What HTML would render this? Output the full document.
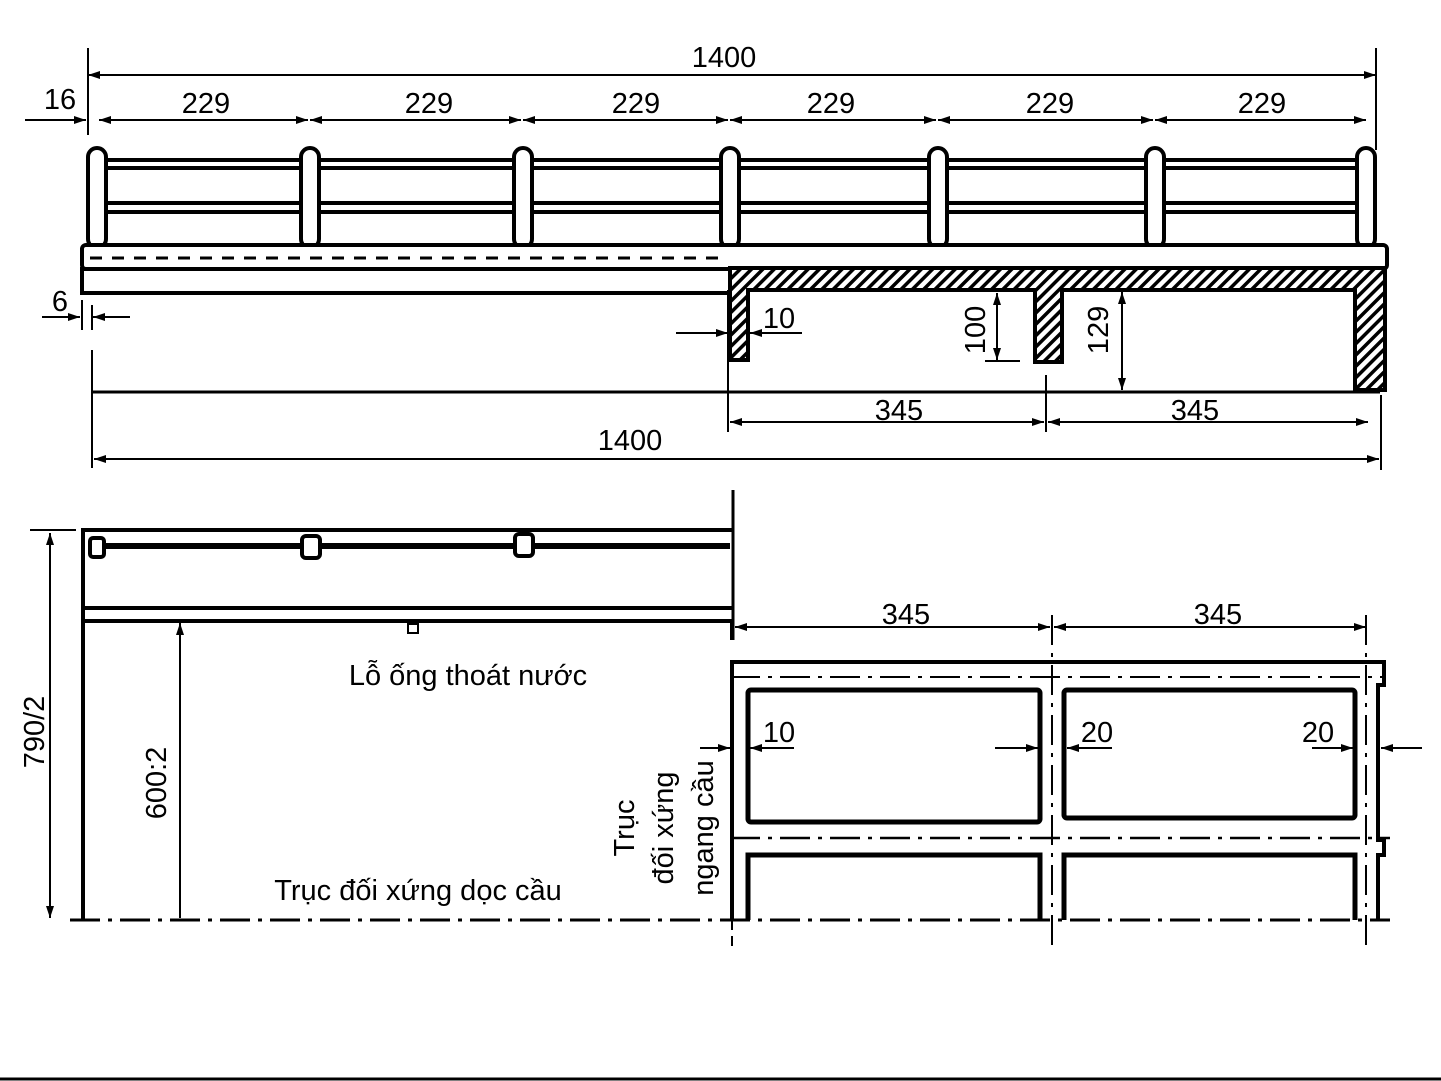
<!DOCTYPE html>
<html><head><meta charset="utf-8"><style>
html,body{margin:0;padding:0;background:#fff;}
svg{display:block;}
text{font-family:"Liberation Sans",sans-serif;font-size:29px;fill:#000;}
</style></head><body>
<svg width="1441" height="1081" viewBox="0 0 1441 1081" xmlns="http://www.w3.org/2000/svg">
<defs>
<marker id="a" viewBox="0 0 12 8" refX="12" refY="4" markerWidth="12" markerHeight="8" markerUnits="userSpaceOnUse" orient="auto-start-reverse"><path d="M0,0 L12,4 L0,8 z" fill="#000"/></marker>
<pattern id="h" width="8" height="8" patternUnits="userSpaceOnUse" patternTransform="rotate(45)"><rect width="8" height="8" fill="#fff"/><rect width="3.5" height="8" fill="#000"/></pattern>
</defs>
<rect width="1441" height="1081" fill="#fff"/>
<g stroke="#000" fill="none" stroke-width="2">
<line x1="88" y1="75" x2="1376" y2="75" marker-start="url(#a)" marker-end="url(#a)"/>
<line x1="88" y1="48" x2="88" y2="135"/><line x1="1376" y1="48" x2="1376" y2="150"/>
<line x1="99" y1="120" x2="308" y2="120" marker-start="url(#a)" marker-end="url(#a)"/>
<line x1="310" y1="120" x2="521" y2="120" marker-start="url(#a)" marker-end="url(#a)"/>
<line x1="523" y1="120" x2="728" y2="120" marker-start="url(#a)" marker-end="url(#a)"/>
<line x1="730" y1="120" x2="936" y2="120" marker-start="url(#a)" marker-end="url(#a)"/>
<line x1="938" y1="120" x2="1153" y2="120" marker-start="url(#a)" marker-end="url(#a)"/>
<line x1="1155" y1="120" x2="1366" y2="120" marker-start="url(#a)" marker-end="url(#a)"/>
<line x1="25" y1="120" x2="86" y2="120" marker-end="url(#a)"/>
<line x1="42" y1="317" x2="80" y2="317" marker-end="url(#a)"/>
<line x1="130" y1="317" x2="93" y2="317" marker-end="url(#a)"/>
<line x1="82" y1="300" x2="82" y2="330"/><line x1="92" y1="305" x2="92" y2="330"/>
<path d="M100,160 H1370 M100,168 H1370 M100,203 H1370 M100,212 H1370" stroke-width="4"/>
</g>
<g stroke="#000" stroke-width="4" fill="#fff">
<rect x="88" y="148" width="18" height="100" rx="9"/>
<rect x="301" y="148" width="18" height="100" rx="9"/>
<rect x="514" y="148" width="18" height="100" rx="9"/>
<rect x="721" y="148" width="18" height="100" rx="9"/>
<rect x="929" y="148" width="18" height="100" rx="9"/>
<rect x="1146" y="148" width="18" height="100" rx="9"/>
<rect x="1357" y="148" width="18" height="100" rx="9"/>
<rect x="82" y="245" width="1305" height="24" rx="4"/>
<rect x="82" y="269" width="648" height="24"/>
<path d="M730,268 H1385 V390 H1355 V290 H1062 V362 H1035 V290 H748 V360 H730 Z" fill="url(#h)"/>
</g>
<g stroke="#000" fill="none" stroke-width="2">
<line x1="90" y1="258" x2="725" y2="258" stroke-width="3" stroke-dasharray="12,10"/>
<line x1="92" y1="392" x2="1380" y2="392" stroke-width="3"/>
<line x1="92" y1="350" x2="92" y2="468"/><line x1="1381" y1="395" x2="1381" y2="470"/>
<line x1="728" y1="290" x2="728" y2="432"/><line x1="1046" y1="375" x2="1046" y2="432"/>
<line x1="730" y1="422" x2="1044" y2="422" marker-start="url(#a)" marker-end="url(#a)"/>
<line x1="1048" y1="422" x2="1368" y2="422" marker-start="url(#a)" marker-end="url(#a)"/>
<line x1="94" y1="459" x2="1379" y2="459" marker-start="url(#a)" marker-end="url(#a)"/>
<line x1="676" y1="333" x2="728" y2="333" marker-end="url(#a)"/>
<line x1="802" y1="333" x2="750" y2="333" marker-end="url(#a)"/>
<line x1="997" y1="293" x2="997" y2="360" marker-start="url(#a)" marker-end="url(#a)"/>
<line x1="985" y1="361" x2="1020" y2="361"/>
<line x1="1122" y1="292" x2="1122" y2="390" marker-start="url(#a)" marker-end="url(#a)"/>
<path d="M83,920 V530 H732 M83,608 H732 M83,621 H732 V640" stroke-width="4"/>
<line x1="733" y1="490" x2="733" y2="640" stroke-width="3"/>
<line x1="95" y1="546" x2="730" y2="546" stroke-width="6"/>
<rect x="408" y="624" width="10" height="9" stroke-width="2"/>
<line x1="30" y1="530" x2="76" y2="530"/>
<line x1="50" y1="533" x2="50" y2="918" marker-start="url(#a)" marker-end="url(#a)"/>
<line x1="180" y1="623" x2="180" y2="918" marker-start="url(#a)"/>
<line x1="70" y1="920" x2="1390" y2="920" stroke-width="3" stroke-dasharray="30,8,4,8"/>
</g>
<g stroke="#000" stroke-width="4" fill="#fff">
<rect x="90" y="538" width="14" height="19" rx="3"/>
<rect x="302" y="536" width="18" height="22" rx="4"/>
<rect x="515" y="534" width="18" height="22" rx="4"/>
</g>
<g stroke="#000" fill="none" stroke-width="2">
<line x1="735" y1="627" x2="1050" y2="627" marker-start="url(#a)" marker-end="url(#a)"/>
<line x1="1054" y1="627" x2="1366" y2="627" marker-start="url(#a)" marker-end="url(#a)"/>
<path d="M732,920 V662 H1384 V685 H1378 V840 H1384 V855 H1378 V920" stroke-width="4"/>
<path d="M748,920 V855 H1040 V920 M1064,920 V855 H1355 V920" stroke-width="5"/>
<rect x="748" y="690" width="292" height="132" rx="3" stroke-width="5"/>
<rect x="1064" y="690" width="291" height="128" rx="3" stroke-width="5"/>
<line x1="730" y1="677" x2="1385" y2="677" stroke-dasharray="30,8,4,8"/>
<line x1="730" y1="838" x2="1390" y2="838" stroke-width="2.5" stroke-dasharray="30,8,4,8"/>
<line x1="1052" y1="615" x2="1052" y2="950" stroke-dasharray="30,8,4,8"/>
<line x1="1366" y1="615" x2="1366" y2="945" stroke-dasharray="30,8,4,8"/>
<line x1="732" y1="920" x2="732" y2="950" stroke-dasharray="10,6"/>
<line x1="794" y1="748" x2="750" y2="748" marker-end="url(#a)"/>
<line x1="995" y1="748" x2="1038" y2="748" marker-end="url(#a)"/>
<line x1="1112" y1="748" x2="1067" y2="748" marker-end="url(#a)"/>
<line x1="1312" y1="748" x2="1353" y2="748" marker-end="url(#a)"/>
<line x1="1422" y1="748" x2="1381" y2="748" marker-end="url(#a)"/>
<line x1="700" y1="748" x2="730" y2="748" marker-end="url(#a)"/>
</g>
<text x="724" y="67" text-anchor="middle">1400</text>
<text x="60" y="109" text-anchor="middle">16</text>
<text x="206" y="113" text-anchor="middle">229</text>
<text x="429" y="113" text-anchor="middle">229</text>
<text x="636" y="113" text-anchor="middle">229</text>
<text x="831" y="113" text-anchor="middle">229</text>
<text x="1050" y="113" text-anchor="middle">229</text>
<text x="1262" y="113" text-anchor="middle">229</text>
<text x="60" y="311" text-anchor="middle">6</text>
<text x="779" y="328" text-anchor="middle">10</text>
<text transform="translate(985,330) rotate(-90)" text-anchor="middle">100</text>
<text transform="translate(1108,330) rotate(-90)" text-anchor="middle">129</text>
<text x="899" y="420" text-anchor="middle">345</text>
<text x="1195" y="420" text-anchor="middle">345</text>
<text x="630" y="450" text-anchor="middle">1400</text>
<text x="906" y="624" text-anchor="middle">345</text>
<text x="1218" y="624" text-anchor="middle">345</text>
<text x="468" y="685" text-anchor="middle">Lỗ ống thoát nước</text>
<text x="418" y="900" text-anchor="middle">Trục đối xứng dọc cầu</text>
<text transform="translate(44,732) rotate(-90)" text-anchor="middle">790/2</text>
<text transform="translate(166,783) rotate(-90)" text-anchor="middle">600:2</text>
<text x="779" y="742" text-anchor="middle">10</text>
<text x="1097" y="742" text-anchor="middle">20</text>
<text x="1318" y="742" text-anchor="middle">20</text>
<text transform="translate(634,828) rotate(-90)" text-anchor="middle">Trục</text>
<text transform="translate(673,828) rotate(-90)" text-anchor="middle">đối xứng</text>
<text transform="translate(713,828) rotate(-90)" text-anchor="middle">ngang cầu</text>
<line x1="0" y1="1079" x2="1441" y2="1079" stroke="#000" stroke-width="3"/>
</svg>
</body></html>
